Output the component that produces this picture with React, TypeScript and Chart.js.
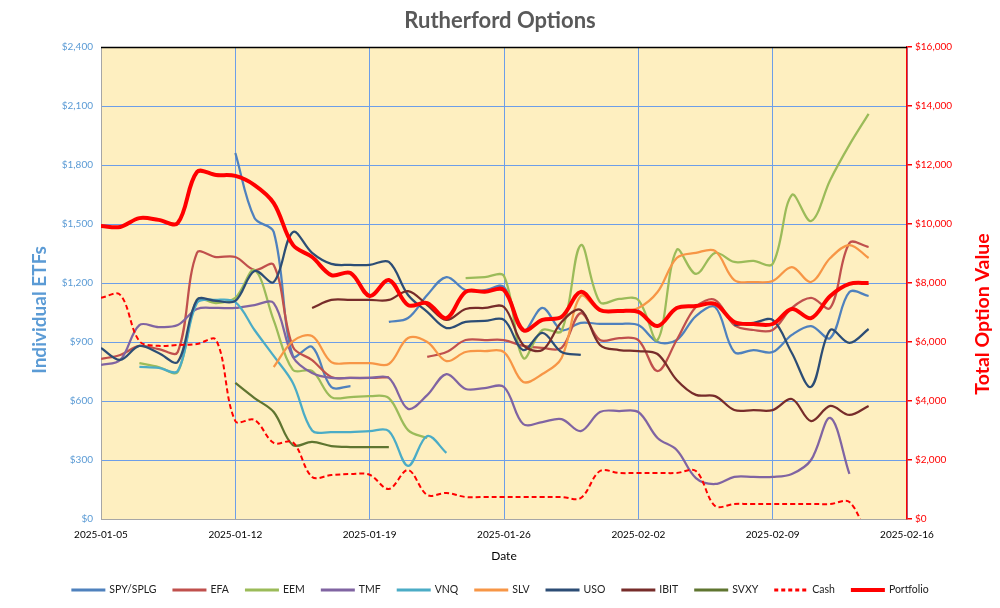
import React, { useEffect, useRef } from 'react';
import { Chart, registerables } from 'chart.js';

Chart.register(...registerables);

// ---------- data ----------
const dates = [
  '2025-01-05', '2025-01-06', '2025-01-07', '2025-01-08', '2025-01-09', '2025-01-10', '2025-01-11',
  '2025-01-12', '2025-01-13', '2025-01-14', '2025-01-15', '2025-01-16', '2025-01-17', '2025-01-18',
  '2025-01-19', '2025-01-20', '2025-01-21', '2025-01-22', '2025-01-23', '2025-01-24', '2025-01-25',
  '2025-01-26', '2025-01-27', '2025-01-28', '2025-01-29', '2025-01-30', '2025-01-31', '2025-02-01',
  '2025-02-02', '2025-02-03', '2025-02-04', '2025-02-05', '2025-02-06', '2025-02-07', '2025-02-08',
  '2025-02-09', '2025-02-10', '2025-02-11', '2025-02-12', '2025-02-13', '2025-02-14',
];
const xTickLabels = ['2025-01-05', '2025-01-12', '2025-01-19', '2025-01-26', '2025-02-02', '2025-02-09', '2025-02-16'];
const leftTicks = [0, 300, 600, 900, 1200, 1500, 1800, 2100, 2400];
const rightTicks = [0, 2000, 4000, 6000, 8000, 10000, 12000, 14000, 16000];

const chartTitle = 'Rutherford Options';
const leftAxisTitle = 'Individual ETFs';
const rightAxisTitle = 'Total Option Value';
const xAxisTitle = 'Date';

const _ = null;
const spy = [_, _, _, _, _, _, _, 1861, 1530, 1460, 829, 875, 671, 676, _, 1002, 1022, 1139, 1230, 1164, 1164, 1180, 956, 1073, 961, 997, 992, 992, 986, 900, 910, 1032, 1078, 849, 859, 849, 936, 981, 920, 1154, 1134];
const efa = [814, 834, 880, 864, 849, 1353, 1332, 1332, 1266, 1292, 875, 808, 722, 717, 717, 722, _, 824, 849, 910, 910, 910, 880, 870, 870, 1047, 910, 920, 910, 752, 910, 1078, 1114, 986, 961, 961, 1073, 1124, 1073, 1403, 1383];
const eem = [_, _, 793, 773, 748, 1114, 1098, 1124, 1266, 1010, 758, 753, 620, 620, 625, 615, 452, 412, _, 1225, 1230, 1236, 819, 961, 956, 1393, 1103, 1119, 1114, 910, 1368, 1246, 1353, 1307, 1312, 1297, 1648, 1515, 1724, 1902, 2060];
const tmf = [783, 808, 986, 976, 986, 1068, 1073, 1073, 1088, 1098, 824, 742, 717, 717, 717, 717, 560, 630, 737, 661, 666, 671, 483, 493, 508, 447, 544, 549, 544, 412, 351, 208, 178, 214, 214, 214, 229, 300, 514, 229, _];
const vnq = [_, _, 773, 768, 753, 1098, 1114, 1103, 961, 829, 692, 450, 442, 442, 447, 447, 270, 422, 336, _, _, _, _, _, _, _, _, _, _, _, _, _, _, _, _, _, _, _, _, _, _];
const slv = [_, _, _, _, _, _, _, _, _, 773, 905, 930, 798, 793, 793, 788, 920, 900, 803, 849, 854, 849, 697, 737, 819, 1134, 1058, 1058, 1073, 1154, 1327, 1353, 1363, 1215, 1205, 1210, 1281, 1205, 1327, 1393, 1327];
const uso = [870, 809, 880, 844, 799, 1114, 1109, 1109, 1261, 1205, 1459, 1353, 1297, 1292, 1292, 1307, 1139, 1053, 971, 1002, 1007, 1012, 859, 946, 849, 834, _, _, _, _, _, _, _, 986, 997, 1012, 844, 672, 961, 895, 966];
const ibit = [_, _, _, _, _, _, _, _, _, _, _, 1073, 1114, 1114, 1114, 1114, 1159, 1088, 1012, 1068, 1073, 1078, 885, 859, 1002, 1063, 885, 859, 854, 839, 707, 631, 625, 554, 554, 554, 610, 498, 575, 529, 575];
const svxy = [_, _, _, _, _, _, _, 692, 615, 544, 376, 392, 371, 366, 366, 366, _, _, _, _, _, _, _, _, _, _, _, _, _, _, _, _, _, _, _, _, _, _, _, _, _];
const cash = [7500, 7600, 6030, 5870, 5900, 5930, 6070, 3320, 3360, 2580, 2600, 1424, 1490, 1525, 1500, 1017, 1660, 814, 881, 746, 746, 746, 746, 746, 746, 712, 1627, 1560, 1560, 1560, 1560, 1627, 440, 508, 508, 508, 508, 508, 508, 576, -700];
const portfolio = [9930, 9900, 10200, 10140, 10030, 11760, 11660, 11630, 11320, 10710, 9290, 8880, 8270, 8340, 7560, 8100, 7250, 7320, 6810, 7700, 7700, 7760, 6400, 6750, 6850, 7700, 7085, 7050, 7020, 6540, 7150, 7220, 7290, 6680, 6610, 6610, 7120, 6810, 7560, 7970, 8000];

const seriesNames = ['SPY/SPLG', 'EFA', 'EEM', 'TMF', 'VNQ', 'SLV', 'USO', 'IBIT', 'SVXY', 'Cash', 'Portfolio'];
const seriesValues = [spy, efa, eem, tmf, vnq, slv, uso, ibit, svxy, cash, portfolio];
const seriesColors = ['#4F81BD', '#C0504D', '#9BBB59', '#8064A2', '#4BACC6', '#F79646', '#2C4D75', '#772C2A', '#5F7530', '#FF0000', '#FF0000'];

const FONT = 'Lato, "Liberation Sans", Arial, sans-serif';

export default function App() {
  const ref = useRef<HTMLCanvasElement | null>(null);

  useEffect(() => {
    if (!ref.current) return;

    const datasets = seriesNames.map((name, i) => {
      const isCash = name === 'Cash';
      const isPort = name === 'Portfolio';
      return {
        label: name,
        data: seriesValues[i].map((v, k) => ({ x: dates.indexOf(dates[k]), y: v })),
        borderColor: seriesColors[i],
        backgroundColor: seriesColors[i],
        borderWidth: isPort ? 4 : isCash ? 2 : 2.25,
        borderDash: isCash ? [5, 3] : [],
        yAxisID: isCash || isPort ? 'y2' : 'y',
        pointRadius: 0,
        tension: 0.35,
        spanGaps: false,
        order: seriesNames.length - i,
      };
    });

    const bgPlugin = {
      id: 'bgPlugin',
      beforeDraw(chart: any) {
        const { ctx, chartArea: a } = chart;
        ctx.save();
        ctx.fillStyle = '#FEEFC0';
        ctx.fillRect(a.left, a.top, a.right - a.left, a.bottom - a.top);
        ctx.restore();
      },
      afterDraw(chart: any) {
        const { ctx, chartArea: a } = chart;
        ctx.save();
        // top border
        ctx.strokeStyle = '#000';
        ctx.lineWidth = 1.5;
        ctx.beginPath();
        ctx.moveTo(a.left, a.top + 0.5);
        ctx.lineTo(a.right, a.top + 0.5);
        ctx.stroke();

        // title
        ctx.fillStyle = '#595959';
        ctx.font = `bold 22px ${FONT}`;
        ctx.textAlign = 'center';
        ctx.textBaseline = 'middle';
        ctx.fillText(chartTitle, 500, 21);

        // axis titles
        ctx.save();
        ctx.translate(40, 310);
        ctx.rotate(-Math.PI / 2);
        ctx.fillStyle = '#5B9BD5';
        ctx.font = `bold 19px ${FONT}`;
        ctx.fillText(leftAxisTitle, 0, 0);
        ctx.restore();

        ctx.save();
        ctx.translate(983, 314);
        ctx.rotate(-Math.PI / 2);
        ctx.fillStyle = '#FF0000';
        ctx.font = `bold 19.5px ${FONT}`;
        ctx.fillText(rightAxisTitle, 0, 0);
        ctx.restore();

        ctx.fillStyle = '#000';
        ctx.font = `12px ${FONT}`;
        ctx.fillText(xAxisTitle, (a.left + a.right) / 2, 556);

        // legend
        ctx.font = `10.5px ${FONT}`;
        const lineW = 34, gapText = 4, gapItem = 16;
        const widths = seriesNames.map((n) => ctx.measureText(n).width);
        const total = widths.reduce((s, w) => s + lineW + gapText + w, 0) + gapItem * (seriesNames.length - 1);
        let x = (1000 - total) / 2;
        const y = 590;
        ctx.textAlign = 'left';
        seriesNames.forEach((n, i) => {
          const ds = datasets[i];
          ctx.save();
          ctx.strokeStyle = ds.borderColor;
          ctx.lineWidth = n === 'Portfolio' ? 4 : 3;
          ctx.setLineDash(n === 'Cash' ? [4, 3] : []);
          ctx.beginPath();
          ctx.moveTo(x, y);
          ctx.lineTo(x + lineW, y);
          ctx.stroke();
          ctx.restore();
          ctx.fillStyle = '#222';
          ctx.fillText(n, x + lineW + gapText, y);
          x += lineW + gapText + widths[i] + gapItem;
        });
        ctx.restore();
      },
    };

    const gridColor = '#6D9EE8';
    const money = (v: number) => '$' + Number(v).toLocaleString('en-US');

    const chart = new Chart(ref.current, {
      type: 'line',
      data: { datasets: datasets as any },
      options: {
        responsive: false,
        animation: false,
        events: [],
        layout: { padding: { top: 47, left: 0, right: 0, bottom: 0 } },
        plugins: { legend: { display: false }, title: { display: false }, tooltip: { enabled: false } },
        elements: { point: { radius: 0 } },
        scales: {
          x: {
            type: 'linear',
            min: 0,
            max: 42,
            afterBuildTicks: (s: any) => { s.ticks = xTickLabels.map((_l, i) => ({ value: i * 7 })); },
            ticks: {
              autoSkip: false,
              maxRotation: 0,
              color: '#000',
              font: { family: FONT, size: 10 },
              padding: 10,
              callback: (v: any) => xTickLabels[Math.round(Number(v) / 7)] ?? '',
            },
            grid: { color: gridColor, drawTicks: false, lineWidth: 1 },
            border: { color: '#A6A6A6', width: 1 },
            afterFit: (s: any) => { s.height = 89; },
          },
          y: {
            position: 'left',
            min: 0,
            max: 2400,
            afterBuildTicks: (s: any) => { s.ticks = leftTicks.map((v) => ({ value: v })); },
            ticks: { color: '#5B9BD5', font: { family: FONT, size: 10 }, padding: 8, callback: (v: any) => money(v) },
            grid: { color: gridColor, drawTicks: false, lineWidth: 1 },
            border: { color: '#A6A6A6', width: 1 },
            afterFit: (s: any) => { s.width = 101; },
          },
          y2: {
            position: 'right',
            min: 0,
            max: 16000,
            afterBuildTicks: (s: any) => { s.ticks = rightTicks.map((v) => ({ value: v })); },
            ticks: { color: '#FF0000', font: { family: FONT, size: 10 }, padding: 3, callback: (v: any) => money(v) },
            grid: { drawOnChartArea: false, color: '#FF0000', tickLength: 5, lineWidth: 1.5 },
            border: { color: '#FF0000', width: 1.5 },
            afterFit: (s: any) => { s.width = 93; },
          },
        },
      },
      plugins: [bgPlugin],
    } as any);

    return () => chart.destroy();
  }, []);

  return (
    <canvas
      ref={ref}
      width={1000}
      height={608}
      style={{ position: 'fixed', left: 0, top: 0, display: 'block', background: '#fff' }}
    />
  );
}
